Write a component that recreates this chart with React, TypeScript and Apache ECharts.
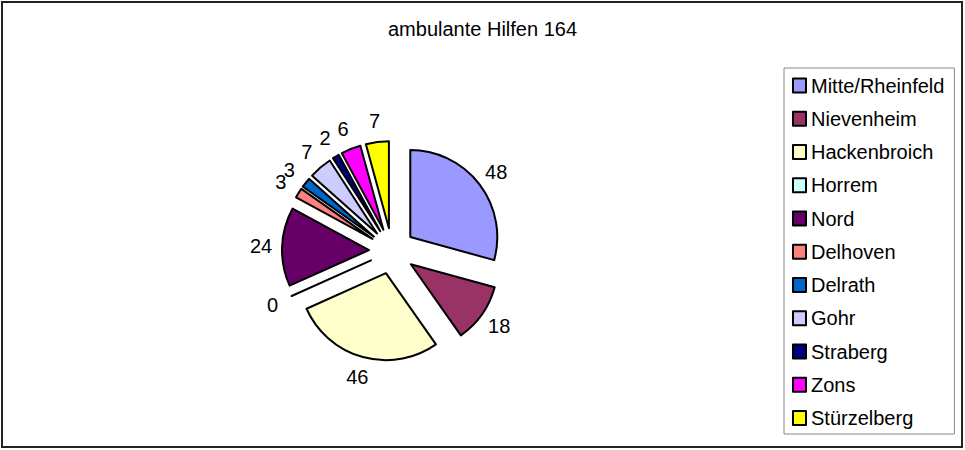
import React, { useEffect, useRef } from "react";
import * as echarts from "echarts";

const titleText = "ambulante Hilfen 164";
const categories = [
  "Mitte/Rheinfeld",
  "Nievenheim",
  "Hackenbroich",
  "Horrem",
  "Nord",
  "Delhoven",
  "Delrath",
  "Gohr",
  "Straberg",
  "Zons",
  "Stürzelberg",
];
const values = [48, 18, 46, 0, 24, 3, 3, 7, 2, 6, 7];
const colors = [
  "#9999FF",
  "#993366",
  "#FFFFCC",
  "#CCFFFF",
  "#660066",
  "#FF8080",
  "#0066CC",
  "#CCCCFF",
  "#000080",
  "#FF00FF",
  "#FFFF00",
];

const FONT = "'Liberation Sans', Arial, sans-serif";

export default function App() {
  const ref = useRef<HTMLDivElement>(null);
  useEffect(() => {
    if (!ref.current) return;
    const chart = echarts.init(ref.current, null, { renderer: "svg" });
    const center = [392, 251];
    chart.setOption({
      animation: false,
      backgroundColor: "#ffffff",
      title: {
        text: titleText,
        left: "center",
        top: 19,
        padding: 0,
        textStyle: { fontFamily: FONT, fontSize: 20, fontWeight: "normal", color: "#000" },
      },
      legend: {
        orient: "vertical",
        left: 784,
        top: 68,
        padding: [7.5, 10, 6, 8],
        itemGap: 13.25,
        itemWidth: 13,
        itemHeight: 14,
        icon: "rect",
        selectedMode: false,
        borderColor: "#888",
        borderWidth: 1,
        data: categories,
        itemStyle: { borderColor: "#000", borderWidth: 2 },
        textStyle: { fontFamily: FONT, fontSize: 20, color: "#000", lineHeight: 20 },
      },
      graphic: [
        {
          type: "rect",
          shape: { x: 2, y: 2, width: 960, height: 445 },
          style: { fill: "none", stroke: "#222", lineWidth: 2 },
          silent: true,
        },
      ],
      series: [
        {
          type: "pie",
          center,
          radius: 87,
          startAngle: 90,
          clockwise: true,
          selectedMode: "multiple",
          selectedOffset: 23,
          stillShowZeroSum: true,
          avoidLabelOverlap: false,
          emphasis: { disabled: true },
          label: { show: false },
          labelLine: { show: false },
          itemStyle: { borderColor: "#000", borderWidth: 2 },
          data: categories.map((name, i) => ({
            name,
            value: values[i],
            selected: true,
            itemStyle: { color: colors[i] },
          })),
        },
        {
          type: "pie",
          center,
          radius: [118, 138],
          startAngle: 90,
          clockwise: true,
          silent: true,
          avoidLabelOverlap: false,
          labelLayout: { hideOverlap: false },
          emphasis: { disabled: true },
          itemStyle: { color: "rgba(0,0,0,0)", borderWidth: 0 },
          label: {
            show: true,
            position: "inside",
            formatter: "{c}",
            fontFamily: FONT,
            fontSize: 20,
            color: "#000",
          },
          labelLine: { show: false },
          data: categories.map((name, i) => ({ name, value: values[i] })),
        },
      ],
    });
    return () => chart.dispose();
  }, []);
  return (
    <div
      ref={ref}
      style={{ position: "absolute", left: 0, top: 0, width: 965, height: 450 }}
    />
  );
}
